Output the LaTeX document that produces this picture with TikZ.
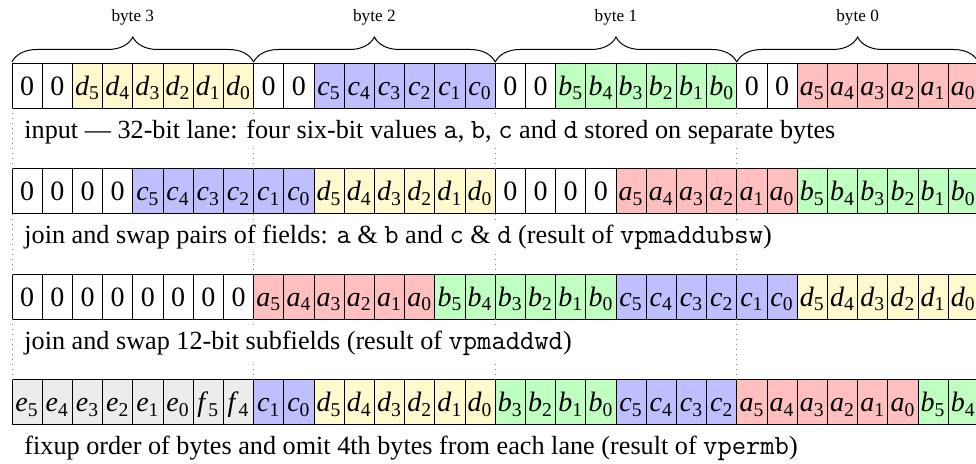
\documentclass[tikz,border=0pt]{standalone}
\usepackage{fontspec}
\setmainfont{Liberation Serif}
\setmonofont{Latin Modern Mono}[Scale=1.06]
\usetikzlibrary{decorations.pathreplacing}
\definecolor{cw}{RGB}{255,255,255}
\definecolor{cy}{RGB}{255,250,205}
\definecolor{cb}{RGB}{191,191,255}
\definecolor{cg}{RGB}{191,255,191}
\definecolor{cr}{RGB}{255,191,191}
\definecolor{ck}{RGB}{236,236,236}
\newcommand\bv[2]{\textit{#1}\textsubscript{#2}}
\newcommand\drawbitrow[3]{%
  \foreach \c/\t [count=\i from 0] in {#3} {
    \node[bitcell, fill=c\c] (#1c\i) at ({27.1+30.2*\i}, {#2+22.5}) {\t};
  }}
\begin{document}
\begin{tikzpicture}[x=0.5pt,y=-0.5pt,
  bitcell/.style={draw=black, line width=0.5pt, minimum width=15.1pt, minimum height=22.5pt,
    inner sep=0pt, outer sep=0pt, text height=9.3pt, text depth=0pt, font=\fontsize{14}{16}\selectfont},
  caption/.style={anchor=base west, fill=white, inner sep=2pt, font=\fontsize{13.1}{15}\selectfont},
  bytelabel/.style={anchor=base, font=\fontsize{8.6}{10}\selectfont},
  bytebrace/.style={decorate, decoration={brace, amplitude=12.5pt}, line width=0.5pt},
  laneguide/.style={gray, dotted, line width=0.5pt}]
\useasboundingbox (0,0) rectangle (976,464);
\clip (0,0) rectangle (976,464);

\drawbitrow{ra}{63.5}{w/0,w/0,y/\bv d5,y/\bv d4,y/\bv d3,y/\bv d2,y/\bv d1,y/\bv d0,
  w/0,w/0,b/\bv c5,b/\bv c4,b/\bv c3,b/\bv c2,b/\bv c1,b/\bv c0,
  w/0,w/0,g/\bv b5,g/\bv b4,g/\bv b3,g/\bv b2,g/\bv b1,g/\bv b0,
  w/0,w/0,r/\bv a5,r/\bv a4,r/\bv a3,r/\bv a2,r/\bv a1,r/\bv a0}
\drawbitrow{rb}{169}{w/0,w/0,w/0,w/0,b/\bv c5,b/\bv c4,b/\bv c3,b/\bv c2,
  b/\bv c1,b/\bv c0,y/\bv d5,y/\bv d4,y/\bv d3,y/\bv d2,y/\bv d1,y/\bv d0,
  w/0,w/0,w/0,w/0,r/\bv a5,r/\bv a4,r/\bv a3,r/\bv a2,
  r/\bv a1,r/\bv a0,g/\bv b5,g/\bv b4,g/\bv b3,g/\bv b2,g/\bv b1,g/\bv b0}
\drawbitrow{rc}{274.5}{w/0,w/0,w/0,w/0,w/0,w/0,w/0,w/0,
  r/\bv a5,r/\bv a4,r/\bv a3,r/\bv a2,r/\bv a1,r/\bv a0,g/\bv b5,g/\bv b4,
  g/\bv b3,g/\bv b2,g/\bv b1,g/\bv b0,b/\bv c5,b/\bv c4,b/\bv c3,b/\bv c2,
  b/\bv c1,b/\bv c0,y/\bv d5,y/\bv d4,y/\bv d3,y/\bv d2,y/\bv d1,y/\bv d0}
\drawbitrow{rd}{380}{k/\bv e5,k/\bv e4,k/\bv e3,k/\bv e2,k/\bv e1,k/\bv e0,k/\bv f5,k/\bv f4,
  b/\bv c1,b/\bv c0,y/\bv d5,y/\bv d4,y/\bv d3,y/\bv d2,y/\bv d1,y/\bv d0,
  g/\bv b3,g/\bv b2,g/\bv b1,g/\bv b0,b/\bv c5,b/\bv c4,b/\bv c3,b/\bv c2,
  r/\bv a5,r/\bv a4,r/\bv a3,r/\bv a2,r/\bv a1,r/\bv a0,g/\bv b5,g/\bv b4}

\foreach \k in {0,8,16,24} {
  \draw[laneguide] (rac\k.south west) -- (rbc\k.north west);
  \draw[laneguide] (rbc\k.south west) -- (rcc\k.north west);
  \draw[laneguide] (rcc\k.south west) -- (rdc\k.north west);
}

\draw[bytebrace] ([yshift=0.75pt]rac0.north west) -- ([yshift=0.75pt]rac7.north east)
  node[bytelabel, midway, yshift=20pt] (lb3) {byte 3};
\draw[bytebrace] ([yshift=0.75pt]rac8.north west) -- ([yshift=0.75pt]rac15.north east)
  node[bytelabel, midway, yshift=20pt] (lb2) {byte 2};
\draw[bytebrace] ([yshift=0.75pt]rac16.north west) -- ([yshift=0.75pt]rac23.north east)
  node[bytelabel, midway, yshift=20pt] (lb1) {byte 1};
\draw[bytebrace] ([yshift=0.75pt]rac24.north west) -- ([yshift=0.75pt]rac31.north east)
  node[bytelabel, midway, yshift=20pt] (lb0) {byte 0};

\node[caption] (capa) at (20,138.5) {input --- 32-bit lane: four six-bit values \texttt{a}, \texttt{b}, \texttt{c} and \texttt{d} stored on separate bytes};
\node[caption] (capb) at (20,244) {join and swap pairs of fields: \texttt{a} \& \texttt{b} and \texttt{c} \& \texttt{d} (result of \texttt{vpmaddubsw})};
\node[caption] (capc) at (20,349.5) {join and swap 12-bit subfields (result of \texttt{vpmaddwd})};
\node[caption] (capd) at (20,455) {fixup order of bytes and omit 4th bytes from each lane (result of \texttt{vpermb})};
\end{tikzpicture}
\end{document}
